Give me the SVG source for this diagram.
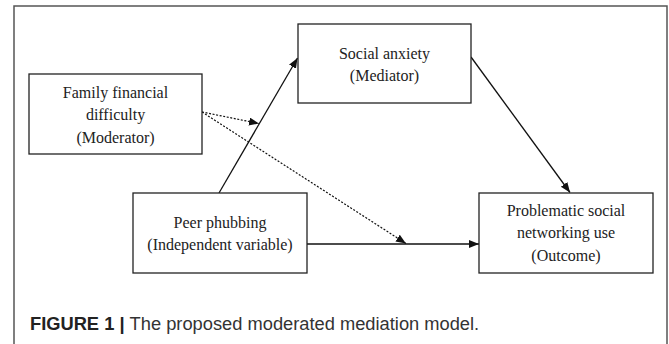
<svg xmlns="http://www.w3.org/2000/svg" width="669" height="344" viewBox="0 0 669 344">
<style>
.box{fill:#fff;stroke:#222;stroke-width:1.3}
.t{font-family:"Liberation Serif","Times New Roman",serif;font-size:16px;fill:#222;text-anchor:middle;dominant-baseline:central}
.ln{stroke:#111;stroke-width:1.3;fill:none}
.dot{stroke:#111;stroke-width:1.2;fill:none;stroke-dasharray:2 1.6}
.cap{font-family:"Liberation Sans",Arial,sans-serif;font-size:18.3px;fill:#333}
</style>
<defs>
<marker id="ah" markerUnits="userSpaceOnUse" markerWidth="11" markerHeight="9" refX="10" refY="4" orient="auto">
<path d="M0,0 L10,4 L0,8 z" fill="#111"/>
</marker>
</defs>
<rect x="0" y="0" width="669" height="344" fill="#fff"/>
<rect x="14" y="6" width="653" height="350" fill="#fff" stroke="#555" stroke-width="1.5"/>
<g id="connectors">
<line class="ln" x1="219" y1="193" x2="297.5" y2="58" marker-end="url(#ah)"/>
<line class="ln" x1="471" y1="57" x2="570" y2="192.5" marker-end="url(#ah)"/>
<line class="ln" x1="307" y1="244" x2="479" y2="244" marker-end="url(#ah)"/>
<line class="dot" x1="202" y1="112" x2="259" y2="123.5" marker-end="url(#ah)"/>
<line class="dot" x1="202" y1="112" x2="406" y2="243.5" marker-end="url(#ah)"/>
</g>
<g id="family">
<rect class="box" x="29" y="74" width="173" height="80"/>
<text class="t" x="115.5" y="92">Family financial</text>
<text class="t" x="115.5" y="114.5">difficulty</text>
<text class="t" x="115.5" y="137">(Moderator)</text>
</g>
<g id="social">
<rect class="box" x="298" y="24" width="173" height="79"/>
<text class="t" x="384.5" y="53">Social anxiety</text>
<text class="t" x="384.5" y="75">(Mediator)</text>
</g>
<g id="peer">
<rect class="box" x="133" y="193" width="174" height="80"/>
<text class="t" x="220" y="222">Peer phubbing</text>
<text class="t" x="220" y="244">(Independent variable)</text>
</g>
<g id="outcome">
<rect class="box" x="479" y="193" width="174" height="80"/>
<text class="t" x="566" y="210.5">Problematic social</text>
<text class="t" x="566" y="232.5">networking use</text>
<text class="t" x="566" y="255">(Outcome)</text>
</g>
<text class="cap" x="30" y="330"><tspan font-weight="bold" fill="#222">FIGURE 1 | </tspan>The proposed moderated mediation model.</text>
</svg>
